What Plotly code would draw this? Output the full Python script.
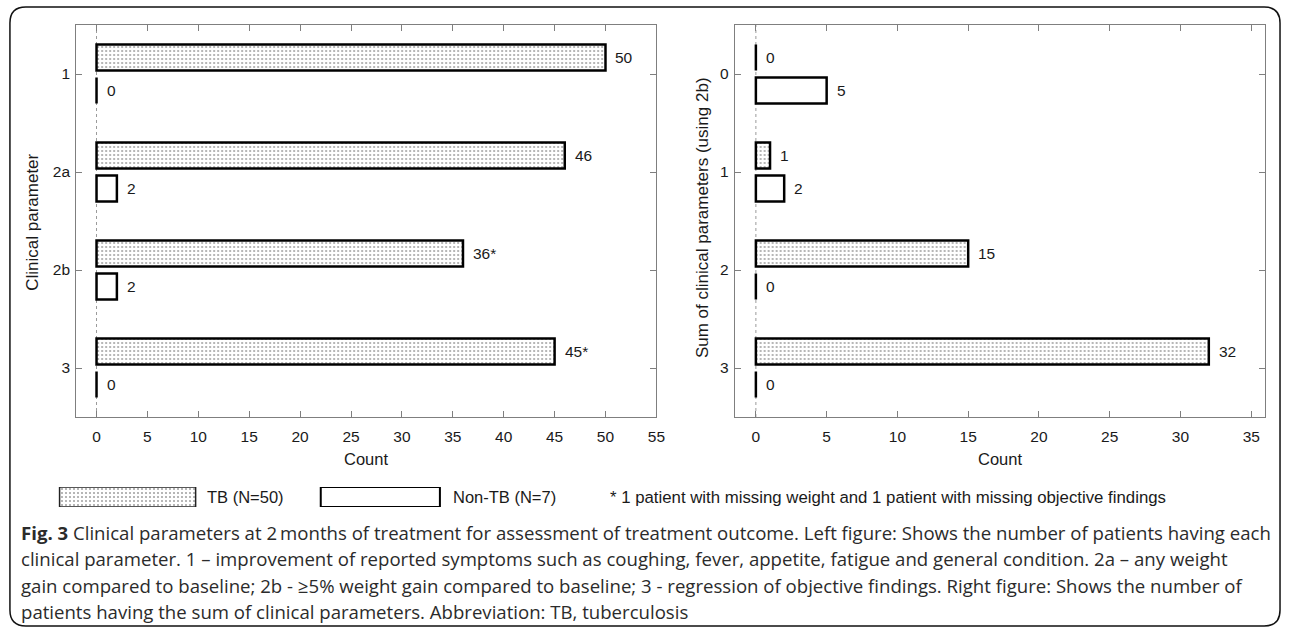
import plotly.graph_objects as go

W, H = 1292, 630

# ---------------- data ----------------
left_categories = ["1", "2a", "2b", "3"]
left_tb = [50, 46, 36, 45]
left_nontb = [0, 2, 2, 0]
left_tb_labels = ["50", "46", "36*", "45*"]
left_nontb_labels = ["0", "2", "2", "0"]

right_categories = ["0", "1", "2", "3"]
right_tb = [0, 1, 15, 32]
right_nontb = [5, 2, 0, 0]
right_tb_labels = ["0", "1", "15", "32"]
right_nontb_labels = ["5", "2", "0", "0"]

left_xticks = list(range(0, 56, 5))
right_xticks = list(range(0, 36, 5))

series_names = ["TB (N=50)", "Non-TB (N=7)"]
x_title = "Count"
left_y_title = "Clinical parameter"
right_y_title = "Sum of clinical parameters (using 2b)"
footnote = "* 1 patient with missing weight and 1 patient with missing objective findings"
caption_lines = [
    "<b>Fig. 3</b> Clinical parameters at 2\u2009months of treatment for assessment of treatment outcome. Left figure: Shows the number of patients having each",
    "clinical parameter. 1 \u2013 improvement of reported symptoms such as coughing, fever, appetite, fatigue and general condition. 2a \u2013 any weight",
    "gain compared to baseline; 2b - \u22655% weight gain compared to baseline; 3 - regression of objective findings. Right figure: Shows the number of",
    "patients having the sum of clinical parameters. Abbreviation: TB, tuberculosis",
]

# ---------------- helpers (pixel -> paper) ----------------
def px(x):
    return x / W

def py(y):
    return 1 - y / H

AX_FONT = "Liberation Sans, Arial, sans-serif"
CAP_FONT = "Open Sans, sans-serif"
GRAY = "#7f7f7f"
TXT = "#1a1a1a"

PLOT_TOP, PLOT_BOTTOM = 25, 417
LEFT_X = (76.7, 661.0)
RIGHT_X = (739.8, 1274.3)

BAR_W = 0.265
TB_OFF = -0.30
NT_OFF = 0.035

tb_pattern = dict(shape=".", fgcolor="#4a4a4a", bgcolor="white", size=4, solidity=0.22)
tb_marker = dict(color="white", line=dict(color="black", width=2.5), pattern=tb_pattern)
nt_marker = dict(color="white", line=dict(color="black", width=2.5))

fig = go.Figure()

panels = [
    ("x", "y", left_categories, left_tb, left_nontb, left_tb_labels, left_nontb_labels),
    ("x2", "y2", right_categories, right_tb, right_nontb, right_tb_labels, right_nontb_labels),
]

annotations = []
shapes = []

for xa, ya, cats, tb, nt, tbl, ntl in panels:
    fig.add_trace(go.Bar(
        y=cats, x=tb, orientation="h", xaxis=xa, yaxis=ya,
        width=BAR_W, offset=TB_OFF, marker=tb_marker, showlegend=False,
        name=series_names[0], hoverinfo="x+y",
    ))
    fig.add_trace(go.Bar(
        y=cats, x=nt, orientation="h", xaxis=xa, yaxis=ya,
        width=BAR_W, offset=NT_OFF, marker=nt_marker, showlegend=False,
        name=series_names[1], hoverinfo="x+y",
    ))
    # value labels: y given as the category index (position on the category axis)
    for i, (v, t) in enumerate(zip(tb, tbl)):
        annotations.append(dict(
            x=v, y=i, xref=xa, yref=ya, text=t, showarrow=False,
            xanchor="left", yanchor="middle", xshift=8, yshift=16.5,
            font=dict(family=AX_FONT, size=15.5, color=TXT),
        ))
    for i, (v, t) in enumerate(zip(nt, ntl)):
        annotations.append(dict(
            x=v, y=i, xref=xa, yref=ya, text=t, showarrow=False,
            xanchor="left", yanchor="middle", xshift=8, yshift=-16.5,
            font=dict(family=AX_FONT, size=15.5, color=TXT),
        ))
    # dotted zero reference line
    shapes.append(dict(
        type="line", xref=xa, yref=f"{ya} domain", x0=0, x1=0, y0=0, y1=1,
        line=dict(color="#9a9a9a", width=1, dash="dot"), layer="below",
    ))

axis_common = dict(
    showline=True, linecolor=GRAY, linewidth=1, mirror="ticks",
    ticks="inside", ticklen=6, tickcolor=GRAY, tickwidth=1,
    showgrid=False, zeroline=False,
    tickfont=dict(family=AX_FONT, size=15.5, color=TXT),
)

fig.update_layout(
    xaxis=dict(domain=[px(LEFT_X[0]), px(LEFT_X[1])], range=[-2, 55],
               tickvals=left_xticks, anchor="y", ticklabelstandoff=5, **axis_common),
    yaxis=dict(domain=[py(PLOT_BOTTOM), py(PLOT_TOP)], type="category",
               categoryorder="array", categoryarray=left_categories,
               range=[3.5, -0.5], anchor="x", ticklabelstandoff=2, **axis_common),
    xaxis2=dict(domain=[px(RIGHT_X[0]), px(RIGHT_X[1])], range=[-1.5, 36],
                tickvals=right_xticks, anchor="y2", ticklabelstandoff=5, **axis_common),
    yaxis2=dict(domain=[py(PLOT_BOTTOM), py(PLOT_TOP)], type="category",
                categoryorder="array", categoryarray=right_categories,
                range=[3.5, -0.5], anchor="x2", ticklabelstandoff=2, **axis_common),
    # hidden axes used only for the legend swatches
    xaxis3=dict(domain=[0, 1], range=[0, W], visible=False, anchor="y3", fixedrange=True),
    yaxis3=dict(domain=[py(507), py(487)], range=[0, 1], visible=False, anchor="x3", fixedrange=True),
)

# legend swatches (decoration)
legend_swatch_base = [60, 323]
legend_swatch_len = [137, 120]
fig.add_trace(go.Bar(
    y=[0.5], x=[legend_swatch_len[0]], base=[legend_swatch_base[0]], orientation="h",
    xaxis="x3", yaxis="y3", width=1, showlegend=False, hoverinfo="skip",
    marker=dict(color="white", line=dict(color="#222", width=1.5), pattern=tb_pattern),
))
fig.add_trace(go.Bar(
    y=[0.5], x=[legend_swatch_len[1]], base=[legend_swatch_base[1]], orientation="h",
    xaxis="x3", yaxis="y3", width=1, showlegend=False, hoverinfo="skip",
    marker=dict(color="white", line=dict(color="black", width=2)),
))

legend_y = py(497)
annotations += [
    dict(x=px(206), y=legend_y, xref="paper", yref="paper", text=series_names[0],
         showarrow=False, xanchor="left", yanchor="middle",
         font=dict(family=AX_FONT, size=16.5, color=TXT)),
    dict(x=px(454), y=legend_y, xref="paper", yref="paper", text=series_names[1],
         showarrow=False, xanchor="left", yanchor="middle",
         font=dict(family=AX_FONT, size=16.5, color=TXT)),
    dict(x=px(612), y=legend_y, xref="paper", yref="paper", text=footnote,
         showarrow=False, xanchor="left", yanchor="middle",
         font=dict(family=AX_FONT, size=16.8, color=TXT)),
]

# axis titles
annotations += [
    dict(x=px(sum(LEFT_X) / 2), y=py(459), xref="paper", yref="paper", text=x_title,
         showarrow=False, xanchor="center", yanchor="middle",
         font=dict(family=AX_FONT, size=16.5, color=TXT)),
    dict(x=px(sum(RIGHT_X) / 2), y=py(459), xref="paper", yref="paper", text=x_title,
         showarrow=False, xanchor="center", yanchor="middle",
         font=dict(family=AX_FONT, size=16.5, color=TXT)),
    dict(x=px(32), y=py(222), xref="paper", yref="paper",
         text=left_y_title, textangle=-90, showarrow=False,
         xanchor="center", yanchor="middle",
         font=dict(family=AX_FONT, size=17, color=TXT)),
    dict(x=px(707), y=py(218), xref="paper", yref="paper",
         text=right_y_title, textangle=-90, showarrow=False,
         xanchor="center", yanchor="middle",
         font=dict(family=AX_FONT, size=17, color=TXT)),
]

# caption
caption_y = [532, 558.5, 585, 611.5]
for line, yy in zip(caption_lines, caption_y):
    annotations.append(dict(
        x=px(19), y=py(yy), xref="paper", yref="paper", text=line,
        showarrow=False, xanchor="left", yanchor="middle",
        font=dict(family=CAP_FONT, size=18.6, color="#2b2b2b"),
    ))

# rounded outer frame
x0, x1, y0, y1, r = 10, 1289, 7, 626, 16
path = (
    f"M {px(x0)},{py(y0 + r)} "
    f"Q {px(x0)},{py(y0)} {px(x0 + r)},{py(y0)} "
    f"L {px(x1 - r)},{py(y0)} "
    f"Q {px(x1)},{py(y0)} {px(x1)},{py(y0 + r)} "
    f"L {px(x1)},{py(y1 - r)} "
    f"Q {px(x1)},{py(y1)} {px(x1 - r)},{py(y1)} "
    f"L {px(x0 + r)},{py(y1)} "
    f"Q {px(x0)},{py(y1)} {px(x0)},{py(y1 - r)} Z"
)
shapes.append(dict(type="path", xref="paper", yref="paper", path=path,
                   line=dict(color="#111", width=1.5), fillcolor="rgba(0,0,0,0)"))

fig.update_layout(
    width=W, height=H, autosize=False,
    margin=dict(l=0, r=0, t=0, b=0),
    paper_bgcolor="white", plot_bgcolor="white",
    barmode="overlay", showlegend=False,
    annotations=annotations, shapes=shapes,
)

# remove the browser's default page margin so the figure sits at the window origin
fig.write_html(
    "out.html",
    config={"displayModeBar": False},
    post_script="document.body.style.margin='0';document.body.style.overflow='hidden';",
)
